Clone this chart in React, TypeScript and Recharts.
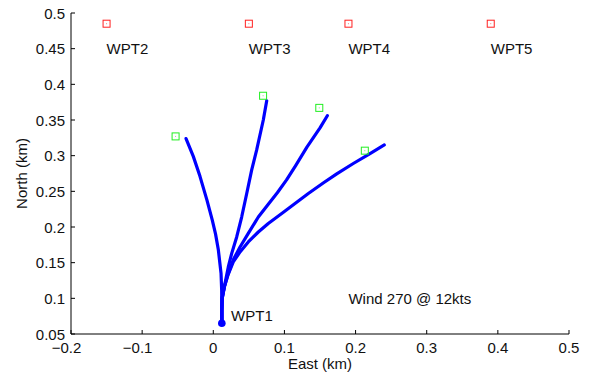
import { ComposedChart, Scatter, XAxis, YAxis } from "recharts";

const FONT = '"Liberation Sans", Arial, Helvetica, sans-serif';
const BLUE = "#0000ff";

const xTicks = [-0.2, -0.1, 0, 0.1, 0.2, 0.3, 0.4, 0.5];
const yTicks = [0.05, 0.1, 0.15, 0.2, 0.25, 0.3, 0.35, 0.4, 0.45, 0.5];

// launch point
const wpt1 = [{ x: 0.012, y: 0.065 }];

// upwind waypoints (red squares) and their names
const waypointNames = ["WPT2", "WPT3", "WPT4", "WPT5"];
const waypointEast = [-0.15, 0.05, 0.19, 0.39];
const waypointNorth = 0.485;

// where each run finished (green squares)
const finishEast = [-0.053, 0.07, 0.149, 0.213];
const finishNorth = [0.327, 0.384, 0.367, 0.307];

// tracked runs, east/north in km
const trackWpt2: [number, number][] = [
  [0.012, 0.065], [0.012, 0.083], [0.0118, 0.111], [0.0109, 0.135],
  [0.0071, 0.168], [0.0032, 0.19], [-0.0015, 0.21], [-0.009, 0.238],
  [-0.0187, 0.271], [-0.0281, 0.299], [-0.0383, 0.324],
];
const trackWpt3: [number, number][] = [
  [0.012, 0.065], [0.012, 0.083], [0.0127, 0.102], [0.0165, 0.121],
  [0.0211, 0.144], [0.0259, 0.163], [0.0329, 0.186], [0.0399, 0.214],
  [0.047, 0.247], [0.054, 0.28], [0.061, 0.308], [0.0703, 0.35],
  [0.0751, 0.377],
];
const trackWpt4: [number, number][] = [
  [0.012, 0.065], [0.012, 0.083], [0.0125, 0.1], [0.0155, 0.116],
  [0.0211, 0.135], [0.0281, 0.154], [0.0376, 0.172], [0.0492, 0.191],
  [0.0633, 0.214], [0.0773, 0.232], [0.09, 0.248], [0.103, 0.266],
  [0.116, 0.2865], [0.1316, 0.312], [0.15, 0.339], [0.1603, 0.356],
];
const trackWpt5: [number, number][] = [
  [0.012, 0.065], [0.012, 0.083], [0.0125, 0.1], [0.0158, 0.117],
  [0.0207, 0.133], [0.0281, 0.151], [0.0376, 0.165], [0.0492, 0.179],
  [0.0633, 0.193], [0.0773, 0.205], [0.0962, 0.219], [0.1149, 0.233],
  [0.1336, 0.247], [0.155, 0.262], [0.1735, 0.2745], [0.1968, 0.289],
  [0.2203, 0.303], [0.2404, 0.315],
];

const notes = [
  { x: 0.025, y: 0.076, text: "WPT1" },
  { x: 0.19, y: 0.1, text: "Wind 270 @ 12kts" },
];

const toPoints = (t: [number, number][]) => t.map(([x, y]) => ({ x, y }));

const waypoints = waypointEast.map((x) => ({ x, y: waypointNorth }));
const waypointLabels = waypointEast.map((x, i) => ({ x, y: 0.45, text: waypointNames[i] }));
const finishes = finishEast.map((x, i) => ({ x, y: finishNorth[i] }));
const tracks = [trackWpt2, trackWpt3, trackWpt4, trackWpt5].map(toPoints);

const fmt = (v: number) => (v < 0 ? "\u2212" + String(-v) : String(v));

function XTick({ x, y, payload }: any) {
  const neg = payload.value < 0;
  return (
    <g>
      <line x1={x} x2={x} y1={y - 8} y2={y - 12} stroke="#000" />
      <text
        x={neg ? x - 4.5 : x}
        y={y}
        dy="0.72em"
        textAnchor="middle"
        fontFamily={FONT}
        fontSize={15}
        fill="#111"
      >
        {fmt(payload.value)}
      </text>
    </g>
  );
}

function YTick({ x, y, payload }: any) {
  return (
    <g>
      <line x1={x + 6} x2={x + 10} y1={y} y2={y} stroke="#000" />
      <text
        x={x}
        y={y}
        textAnchor="end"
        dominantBaseline="central"
        fontFamily={FONT}
        fontSize={15}
        fill="#111"
      >
        {fmt(payload.value)}
      </text>
    </g>
  );
}

const squareShape = (color: string) => (p: any) => (
  <g>
    <rect x={p.cx - 3.5} y={p.cy - 3.5} width={7} height={7} fill="none" stroke={color} strokeWidth={1} />
    <rect x={p.cx - 0.5} y={p.cy - 0.5} width={1} height={1} fill={color} opacity={0.6} />
  </g>
);

const textShape = (p: any) => (
  <text
    x={p.cx}
    y={p.cy}
    dominantBaseline="central"
    fontFamily={FONT}
    fontSize={15}
    fill="#111"
  >
    {p.payload.text}
  </text>
);

const noShape = () => <g />;

export default function App() {
  return (
    <div style={{ position: "absolute", left: 0, top: 0, background: "#fff" }}>
      <ComposedChart width={594} height={376} margin={{ top: 13, right: 25, bottom: 0, left: 0 }}>
        <XAxis
          type="number"
          dataKey="x"
          domain={[-0.2, 0.5]}
          ticks={xTicks}
          interval={0}
          allowDataOverflow
          height={42}
          tickSize={0}
          tickMargin={8}
          tickLine={false}
          axisLine={{ stroke: "#000" }}
          tick={<XTick />}
          label={{
            content: (props: any) => {
              const vb = props.viewBox;
              return (
                <text
                  x={vb.x + vb.width / 2}
                  y={369}
                  textAnchor="middle"
                  fontFamily={FONT}
                  fontSize={15}
                  fill="#111"
                >
                  East (km)
                </text>
              );
            },
          }}
        />
        <YAxis
          type="number"
          dataKey="y"
          domain={[0.05, 0.5]}
          ticks={yTicks}
          interval={0}
          allowDataOverflow
          width={71}
          tickSize={0}
          tickMargin={6}
          tickLine={false}
          axisLine={{ stroke: "#000" }}
          tick={<YTick />}
          label={{
            content: (props: any) => {
              const vb = props.viewBox;
              const cy = vb.y + vb.height / 2;
              return (
                <text
                  x={21}
                  y={cy}
                  transform={`rotate(-90 21 ${cy})`}
                  textAnchor="middle"
                  dominantBaseline="central"
                  fontFamily={FONT}
                  fontSize={15}
                  fill="#111"
                >
                  North (km)
                </text>
              );
            },
          }}
        />
        {tracks.map((t, i) => (
          <Scatter
            key={i}
            data={t}
            line={{ stroke: BLUE, strokeWidth: 3.2, strokeLinejoin: "round", strokeLinecap: "round" }}
            shape={noShape}
            isAnimationActive={false}
          />
        ))}
        <Scatter
          data={wpt1}
          shape={(p: any) => <circle cx={p.cx} cy={p.cy} r={3.8} fill={BLUE} />}
          isAnimationActive={false}
        />
        <Scatter data={waypoints} shape={squareShape("#ff2020")} isAnimationActive={false} />
        <Scatter data={finishes} shape={squareShape("#22ee22")} isAnimationActive={false} />
        <Scatter data={waypointLabels} shape={textShape} isAnimationActive={false} />
        <Scatter data={notes} shape={textShape} isAnimationActive={false} />
      </ComposedChart>
    </div>
  );
}
